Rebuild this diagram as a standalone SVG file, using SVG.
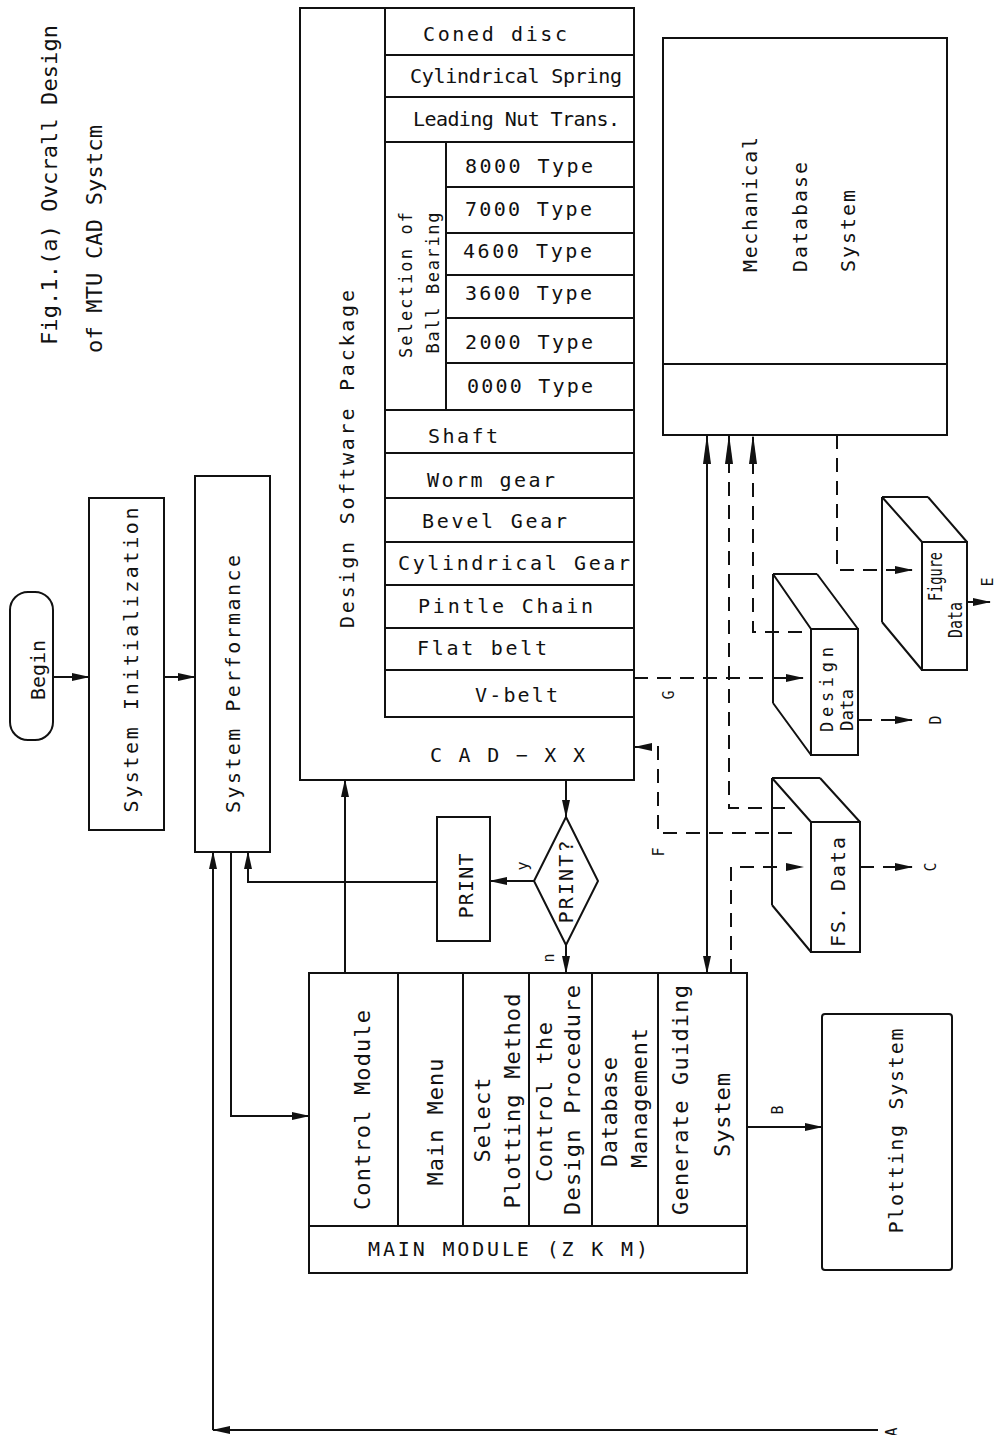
<svg xmlns="http://www.w3.org/2000/svg" width="998" height="1435" viewBox="0 0 998 1435">
<defs>
<style>
.ln{fill:none;stroke:#111;stroke-width:2}
.dl{fill:none;stroke:#111;stroke-width:2;stroke-dasharray:14 9}
.t{font-family:"DejaVu Sans Mono","Liberation Mono",monospace;font-size:20px;fill:#111}
.m{font-size:22px}
.sm{font-size:17px}
.lb{font-size:15px}
</style>
<marker id="ah" viewBox="0 0 18 10" refX="17" refY="5" markerWidth="18" markerHeight="10" markerUnits="userSpaceOnUse" orient="auto-start-reverse"><path d="M0,1 L18,5 L0,9 z" fill="#111" stroke="none"/></marker>
<marker id="ahl" viewBox="0 0 30 10" refX="29" refY="5" markerWidth="30" markerHeight="10" markerUnits="userSpaceOnUse" orient="auto-start-reverse"><path d="M0,1 L30,5 L0,9 z" fill="#111" stroke="none"/></marker>
</defs>
<rect width="998" height="1435" fill="#fff"/>

<g id="title">
<text class="t m" transform="translate(57,25) rotate(-90)" text-anchor="end" textLength="320" lengthAdjust="spacing">Fig.1.(a) Ovcrall Design</text>
<text class="t m" transform="translate(102,125) rotate(-90)" text-anchor="end" textLength="228" lengthAdjust="spacing">of MTU CAD Systcm</text>
</g>

<g id="begin">
<rect x="10" y="592" width="43" height="148" rx="18" ry="18" class="ln"/>
<text class="t" transform="translate(45,670) rotate(-90)" text-anchor="middle" textLength="60" lengthAdjust="spacing">Begin</text>
</g>

<g id="system-initialization">
<rect x="89" y="498" width="75" height="332" class="ln"/>
<text class="t" transform="translate(138,660) rotate(-90)" text-anchor="middle" textLength="305" lengthAdjust="spacing">System Initialization</text>
</g>

<g id="system-performance">
<rect x="195" y="476" width="75" height="376" class="ln"/>
<text class="t" transform="translate(240,684) rotate(-90)" text-anchor="middle" textLength="258" lengthAdjust="spacing">System Performance</text>
</g>

<g id="design-software-package">
<rect x="300" y="8" width="334" height="772" class="ln"/>
<path class="ln" d="M385,8 V717 H634 M385,55 H634 M385,97 H634 M385,142 H634 M446,142 V410 M446,187 H634 M446,233 H634 M446,275 H634 M446,318 H634 M446,363 H634 M385,410 H634 M385,453 H634 M385,498 H634 M385,542 H634 M385,585 H634 M385,628 H634 M385,670 H634"/>
<text class="t" transform="translate(354,459) rotate(-90)" text-anchor="middle" textLength="338" lengthAdjust="spacing">Design Software Package</text>
<text class="t" x="423" y="41" textLength="144" lengthAdjust="spacing">Coned disc</text>
<text class="t" x="410" y="83" textLength="212" lengthAdjust="spacing">Cylindrical Spring</text>
<text class="t" x="413" y="126" textLength="207" lengthAdjust="spacing">Leading Nut Trans.</text>
<text class="t sm" transform="translate(412,285) rotate(-90)" text-anchor="middle" textLength="146" lengthAdjust="spacing">Selection of</text>
<text class="t sm" transform="translate(439,283) rotate(-90)" text-anchor="middle" textLength="141" lengthAdjust="spacing">Ball Bearing</text>
<text class="t" x="465" y="173" textLength="128" lengthAdjust="spacing">8000 Type</text>
<text class="t" x="465" y="216" textLength="127" lengthAdjust="spacing">7000 Type</text>
<text class="t" x="463" y="258" textLength="129" lengthAdjust="spacing">4600 Type</text>
<text class="t" x="465" y="300" textLength="127" lengthAdjust="spacing">3600 Type</text>
<text class="t" x="465" y="349" textLength="128" lengthAdjust="spacing">2000 Type</text>
<text class="t" x="467" y="393" textLength="126" lengthAdjust="spacing">0000 Type</text>
<text class="t" x="428" y="443" textLength="70" lengthAdjust="spacing">Shaft</text>
<text class="t" x="427" y="487" textLength="128" lengthAdjust="spacing">Worm gear</text>
<text class="t" x="422" y="528" textLength="145" lengthAdjust="spacing">Bevel Gear</text>
<text class="t" x="398" y="570" textLength="232" lengthAdjust="spacing">Cylindrical Gear</text>
<text class="t" x="418" y="613" textLength="175" lengthAdjust="spacing">Pintle Chain</text>
<text class="t" x="417" y="655" textLength="130" lengthAdjust="spacing">Flat belt</text>
<text class="t" x="475" y="702" textLength="83" lengthAdjust="spacing">V-belt</text>
<text class="t" x="430" y="762" textLength="155" lengthAdjust="spacing">C A D − X X</text>
</g>

<g id="mechanical-database">
<rect x="663" y="38" width="284" height="397" class="ln"/>
<path class="ln" d="M663,364 H947"/>
<text class="t" transform="translate(757,272) rotate(-90)" textLength="135" lengthAdjust="spacing">Mechanical</text>
<text class="t" transform="translate(807,272) rotate(-90)" textLength="110" lengthAdjust="spacing">Database</text>
<text class="t" transform="translate(855,272) rotate(-90)" textLength="82" lengthAdjust="spacing">System</text>
</g>

<g id="print">
<rect x="437" y="817" width="53" height="124" class="ln"/>
<text class="t" transform="translate(473,886) rotate(-90)" text-anchor="middle" textLength="65" lengthAdjust="spacing">PRINT</text>
</g>

<g id="print-decision">
<polygon points="566,817 598,881 566,945 534,881" class="ln"/>
<text class="t" transform="translate(573,882) rotate(-90)" text-anchor="middle" textLength="83" lengthAdjust="spacing">PRINT?</text>
</g>

<g id="design-data">
<rect x="811" y="629" width="47" height="126" class="ln"/>
<path class="ln" d="M773,574 H817 M773,574 V703 M773,574 L811,629 M817,574 L858,629 M773,703 L811,755"/>
<text class="t sm" transform="translate(833,732) rotate(-90)" textLength="85" lengthAdjust="spacing">Design</text>
<text class="t sm" transform="translate(853,731) rotate(-90)" textLength="42" lengthAdjust="spacingAndGlyphs">Data</text>
</g>

<g id="figure-data">
<rect x="922" y="542" width="45" height="128" class="ln"/>
<path class="ln" d="M882,497 H928 M882,497 V622 M882,497 L922,542 M928,497 L967,542 M882,622 L922,670"/>
<text class="t" style="font-size:19px" transform="translate(942,601) rotate(-90)" textLength="49" lengthAdjust="spacingAndGlyphs">Figure</text>
<text class="t" style="font-size:19px" transform="translate(962,638) rotate(-90)" textLength="36" lengthAdjust="spacingAndGlyphs">Data</text>
</g>

<g id="fs-data">
<rect x="811" y="822" width="49" height="130" class="ln"/>
<path class="ln" d="M772,778 H820 M772,778 V905 M772,778 L811,822 M820,778 L860,822 M772,905 L811,952"/>
<text class="t" transform="translate(845,947) rotate(-90)" textLength="110" lengthAdjust="spacing">FS. Data</text>
</g>

<g id="main-module">
<rect x="309" y="973" width="438" height="300" class="ln"/>
<path class="ln" d="M309,1226 H747 M398,973 V1226 M463,973 V1226 M529,973 V1226 M592,973 V1226 M658,973 V1226"/>
<text class="t m" transform="translate(370,1110) rotate(-90)" text-anchor="middle" textLength="200" lengthAdjust="spacing">Control Module</text>
<text class="t m" transform="translate(443,1122) rotate(-90)" text-anchor="middle" textLength="127" lengthAdjust="spacing">Main Menu</text>
<text class="t m" transform="translate(490,1120) rotate(-90)" text-anchor="middle" textLength="85" lengthAdjust="spacing">Select</text>
<text class="t m" transform="translate(520,1101) rotate(-90)" text-anchor="middle" textLength="215" lengthAdjust="spacing">Plotting Method</text>
<text class="t m" transform="translate(552,1102) rotate(-90)" text-anchor="middle" textLength="160" lengthAdjust="spacing">Control the</text>
<text class="t m" transform="translate(580,1100) rotate(-90)" text-anchor="middle" textLength="230" lengthAdjust="spacing">Design Procedure</text>
<text class="t m" transform="translate(617,1112) rotate(-90)" text-anchor="middle" textLength="110" lengthAdjust="spacing">Database</text>
<text class="t m" transform="translate(647,1098) rotate(-90)" text-anchor="middle" textLength="140" lengthAdjust="spacing">Management</text>
<text class="t m" transform="translate(688,1100) rotate(-90)" text-anchor="middle" textLength="230" lengthAdjust="spacing">Generate Guiding</text>
<text class="t m" transform="translate(730,1115) rotate(-90)" text-anchor="middle" textLength="84" lengthAdjust="spacing">System</text>
<text class="t" x="368" y="1256" textLength="280" lengthAdjust="spacing">MAIN MODULE (Z K M)</text>
</g>

<g id="plotting-system">
<rect x="822" y="1014" width="130" height="256" rx="3" class="ln"/>
<text class="t" transform="translate(903,1131) rotate(-90)" text-anchor="middle" textLength="205" lengthAdjust="spacing">Plotting System</text>
</g>

<g id="connectors">
<path class="ln" d="M53,677 H89" marker-end="url(#ah)"/>
<path class="ln" d="M164,677 H195" marker-end="url(#ah)"/>
<path class="ln" d="M878,1430 H213" marker-end="url(#ah)"/>
<path class="ln" d="M213,1430 V852" marker-end="url(#ah)"/>
<path class="ln" d="M231,852 V1116 H309" marker-end="url(#ah)"/>
<path class="ln" d="M437,882 H248 V852" marker-end="url(#ah)"/>
<path class="ln" d="M345,973 V780" marker-end="url(#ah)"/>
<path class="ln" d="M566,780 V817" marker-end="url(#ah)"/>
<path class="ln" d="M534,881 H490" marker-end="url(#ah)"/>
<path class="ln" d="M566,945 V973" marker-end="url(#ah)"/>
<path class="ln" d="M707,973 V435" marker-start="url(#ah)" marker-end="url(#ahl)"/>
<path class="dl" d="M785,808 H729 V435" marker-end="url(#ahl)"/>
<path class="dl" d="M802,632 H753 V435" marker-end="url(#ahl)"/>
<path class="dl" d="M837,435 V570 H912" marker-end="url(#ah)"/>
<path class="dl" d="M634,678 H803" marker-end="url(#ah)"/>
<path class="dl" d="M792,833 H658 V747 H635" marker-end="url(#ah)"/>
<path class="dl" d="M731,973 V867 H803" marker-end="url(#ah)"/>
<path class="dl" d="M860,867 H912" marker-end="url(#ah)"/>
<path class="dl" d="M858,720 H912" marker-end="url(#ah)"/>
<path class="ln" d="M967,602 H990" marker-end="url(#ah)"/>
<path class="ln" d="M747,1127 H822" marker-end="url(#ah)"/>
<text class="t lb" transform="translate(528,866) rotate(-90)" text-anchor="middle">y</text>
<text class="t lb" transform="translate(554,958) rotate(-90)" text-anchor="middle">n</text>
<text class="t lb" transform="translate(674,695) rotate(-90)" text-anchor="middle">G</text>
<text class="t lb" transform="translate(664,852) rotate(-90)" text-anchor="middle">F</text>
<text class="t lb" transform="translate(941,720) rotate(-90)" text-anchor="middle">D</text>
<text class="t lb" transform="translate(936,867) rotate(-90)" text-anchor="middle">C</text>
<text class="t lb" transform="translate(993,582) rotate(-90)" text-anchor="middle">E</text>
<text class="t lb" transform="translate(783,1110) rotate(-90)" text-anchor="middle">B</text>
<text class="t lb" transform="translate(897,1432) rotate(-90)" text-anchor="middle">A</text>
</g>
</svg>
